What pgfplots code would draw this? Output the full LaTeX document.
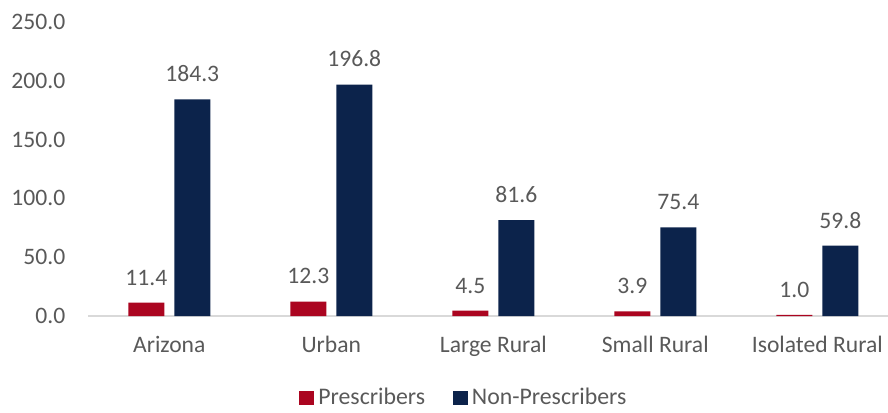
\documentclass[border=0pt]{standalone}
\usepackage{pgfplots}
\pgfplotsset{compat=1.18}
\usepackage{fontspec}
\setmainfont{Carlito}
\definecolor{azred}{HTML}{AB0520}
\definecolor{aznavy}{HTML}{0C234B}
\definecolor{txtgray}{HTML}{595959}
\definecolor{axgray}{HTML}{D9D9D9}
\begin{document}
\begin{tikzpicture}
\path[use as bounding box] (-44.15pt,-48pt) rectangle (399.85pt,158pt);
\begin{axis}[
  at={(0,0)}, anchor=south west,
  scale only axis, width=405pt, height=147pt,
  xmin=-0.5, xmax=4.5, ymin=0, ymax=250,
  ybar, bar width=18pt,
  xtick={0,1,2,3,4},
  xticklabels={Arizona, Urban, Large Rural, Small Rural, Isolated Rural},
  ytick={0,50,100,150,200,250},
  tick label style={font=\fontsize{11.8}{14}\selectfont, text=txtgray},
  yticklabel style={xshift=-8pt, /pgf/number format/.cd, fixed, fixed zerofill, precision=1, assume math mode=true},
  xticklabel style={yshift=-6.5pt},
  major tick length=0pt,
  axis x line*=bottom,
  axis y line*=left,
  y axis line style={draw=none},
  x axis line style={axgray, line width=0.8pt, -},
  enlarge x limits=false,
  clip=false,
  nodes near coords,
  nodes near coords style={font=\fontsize{11.8}{14}\selectfont, text=txtgray, anchor=south, inner sep=0pt, yshift=8.5pt,
    /pgf/number format/.cd, fixed, fixed zerofill, precision=1, assume math mode=true},
  legend style={at={(0.465,-0.279)}, anchor=center, draw=none, fill=none,
    legend columns=2, font=\fontsize{11.9}{14}\selectfont, text=txtgray,
    /tikz/every even column/.append style={column sep=12pt}},
  legend image code/.code={\fill[#1] (0pt,-3.6pt) rectangle (7.4pt,3.6pt);},
]
\addplot[fill=azred, draw=none, bar shift=-11.5pt] coordinates {(0,11.4) (1,12.3) (2,4.5) (3,3.9) (4,1.0)};
\addplot[fill=aznavy, draw=none, bar shift=11.5pt] coordinates {(0,184.3) (1,196.8) (2,81.6) (3,75.4) (4,59.8)};
\legend{Prescribers, Non-Prescribers}
\end{axis}
\end{tikzpicture}
\end{document}
